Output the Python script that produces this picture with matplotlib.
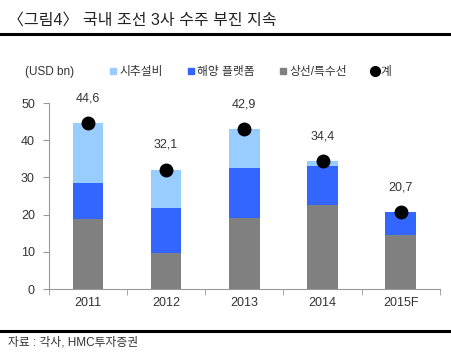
import matplotlib.pyplot as plt
from matplotlib.lines import Line2D
import numpy as np

plt.rcParams['font.family'] = ['Liberation Sans', 'Noto Sans CJK KR', 'DejaVu Sans']

years = ['2011', '2012', '2013', '2014', '2015F']
merchant = [18.8, 9.6, 19.1, 22.7, 14.5]      # 상선/특수선
offshore = [9.7, 12.3, 13.4, 10.5, 6.2]       # 해양 플랫폼
drilling = [16.1, 10.2, 10.4, 1.2, 0.0]       # 시추설비
total = [44.6, 32.1, 42.9, 34.4, 20.7]        # 계
total_labels = ['44,6', '32,1', '42,9', '34,4', '20,7']

c_drill = '#99ccff'
c_off = '#3366ff'
c_merch = '#808080'
txt = '#333333'

fig = plt.figure(figsize=(4.52, 3.53), dpi=100)
ax = fig.add_axes([0.108, 0.181, 0.865, 0.527])

x = np.arange(len(years))
w = 0.39
ax.bar(x, merchant, w, color=c_merch)
ax.bar(x, offshore, w, bottom=merchant, color=c_off)
ax.bar(x, drilling, w, bottom=np.array(merchant) + np.array(offshore), color=c_drill)
ax.plot(x, total, 'o', color='black', markersize=9, zorder=5)
for xi, t, lab in zip(x, total, total_labels):
    ax.text(xi, t + 6.7, lab, ha='center', va='center', fontsize=9, color=txt)

ax.set_xlim(-0.5, len(years) - 0.5)
ax.set_ylim(0, 50)
ax.set_yticks(range(0, 51, 10))
ax.set_xticks(x)
ax.set_xticklabels(years)
ax.set_xticks(np.arange(-0.5, len(years), 1), minor=True)
ax.tick_params(axis='x', which='major', length=0, pad=6, labelsize=9, labelcolor=txt)
ax.tick_params(axis='x', which='minor', length=4, color='#999999', direction='out')
ax.tick_params(axis='y', length=4, color='#999999', labelsize=9, labelcolor=txt, pad=6)
for s in ['top', 'right']:
    ax.spines[s].set_visible(False)
for s in ['left', 'bottom']:
    ax.spines[s].set_color('#999999')

fig.text(0.018, 0.943, '〈그림4〉 국내 조선 3사 수주 부진 지속', fontsize=11.5, color='#222222', va='center')
fig.add_artist(Line2D([0, 1], [0.905, 0.905], color='black', lw=2.2))
fig.add_artist(Line2D([0, 1], [0.063, 0.063], color='black', lw=2.2))
fig.text(0.018, 0.031, '자료 : 각사, HMC투자증권', fontsize=8.5, color=txt, va='center')
fig.text(0.055, 0.796, '(USD bn)', fontsize=8.5, color=txt, va='center')

handles = [
    Line2D([], [], marker='s', ls='', color=c_drill, markersize=5),
    Line2D([], [], marker='s', ls='', color=c_off, markersize=5),
    Line2D([], [], marker='s', ls='', color=c_merch, markersize=5),
    Line2D([], [], marker='o', ls='', color='black', markersize=7),
]
labels = ['시추설비', '해양 플랫폼', '상선/특수선', '계']
fig.legend(handles, labels, loc='center left', bbox_to_anchor=(0.238, 0.796), ncol=4,
           frameon=False, fontsize=8.5, handletextpad=0.0, columnspacing=1.9,
           handlelength=1.0, labelcolor=txt, borderaxespad=0, borderpad=0)

fig.savefig('out.png', dpi=100)
